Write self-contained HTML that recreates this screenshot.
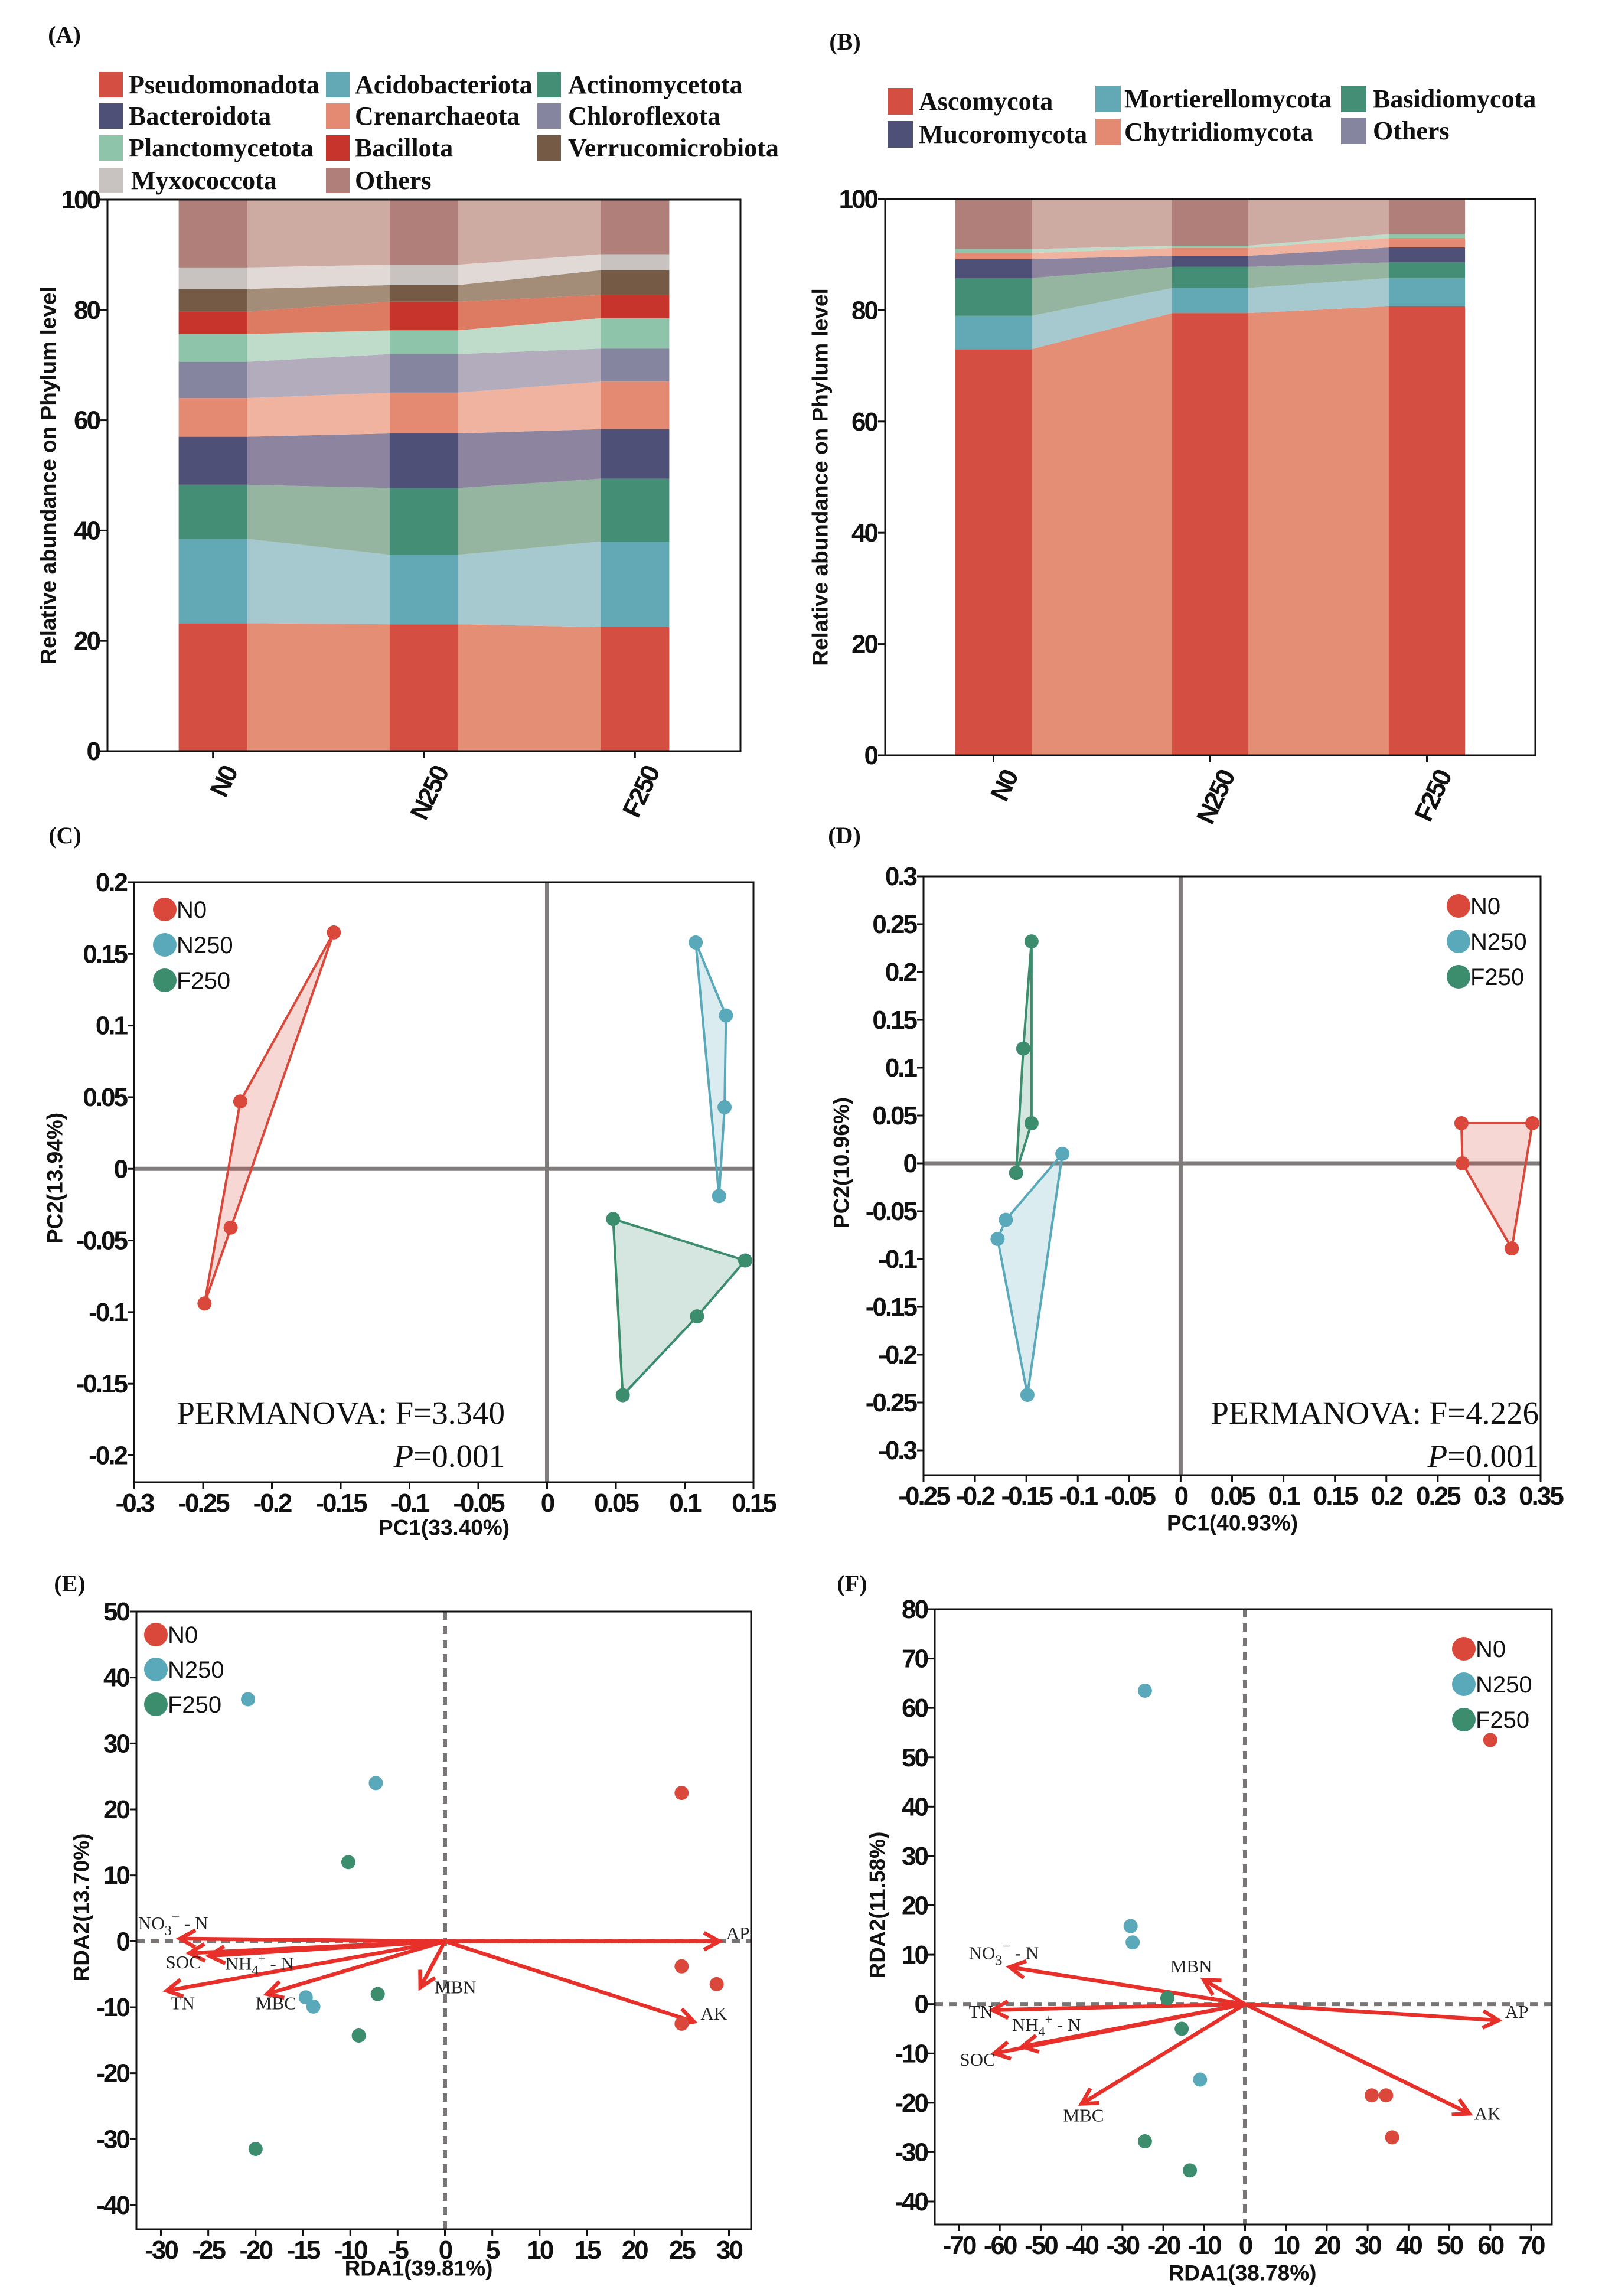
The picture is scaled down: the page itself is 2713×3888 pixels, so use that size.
<!DOCTYPE html>
<html><head><meta charset="utf-8"><title>Microbial community composition and ordination</title>
<style>
html,body{margin:0;padding:0;background:#fff;}
svg{display:block;}
.tick{font-family:"Liberation Sans",Arial,sans-serif;font-weight:bold;font-size:44px;letter-spacing:-3px;fill:#111;}
.axt{font-family:"Liberation Sans",Arial,sans-serif;font-weight:bold;font-size:37px;fill:#111;}
.leg{font-family:"Liberation Serif",serif;font-weight:bold;font-size:44px;fill:#111;}
.lab{font-family:"Liberation Serif",serif;font-weight:bold;font-size:40px;fill:#111;}
.sleg{font-family:"Liberation Sans",Arial,sans-serif;font-size:40px;fill:#111;}
.perm{font-family:"Liberation Serif",serif;font-size:55px;fill:#111;}
.env{font-family:"Liberation Serif",serif;font-size:31px;fill:#222;}
</style></head>
<body>
<svg id="fig" xmlns="http://www.w3.org/2000/svg" width="2713" height="3888" viewBox="0 0 2713 3888">
<rect x="0" y="0" width="2713" height="3888" fill="#fff"/>
<text class="lab" x="109" y="72" text-anchor="middle">(A)</text>
<text class="lab" x="1431" y="84" text-anchor="middle">(B)</text>
<text class="lab" x="110" y="1428" text-anchor="middle">(C)</text>
<text class="lab" x="1430" y="1428" text-anchor="middle">(D)</text>
<text class="lab" x="118" y="2695" text-anchor="middle">(E)</text>
<text class="lab" x="1443" y="2695" text-anchor="middle">(F)</text>

<g>
 <g><rect x="168" y="122" width="40" height="43" fill="#d44f42"/><text class="leg" x="218" y="158">Pseudomonadota</text></g>
 <g><rect x="552" y="122" width="40" height="43" fill="#62a8b5"/><text class="leg" x="601" y="158">Acidobacteriota</text></g>
 <g><rect x="910" y="122" width="40" height="43" fill="#458e76"/><text class="leg" x="962" y="158">Actinomycetota</text></g>
 <g><rect x="168" y="175" width="40" height="43" fill="#4f5077"/><text class="leg" x="218" y="211">Bacteroidota</text></g>
 <g><rect x="552" y="175" width="40" height="43" fill="#e58a72"/><text class="leg" x="601" y="211">Crenarchaeota</text></g>
 <g><rect x="910" y="175" width="40" height="43" fill="#85859f"/><text class="leg" x="962" y="211">Chloroflexota</text></g>
 <g><rect x="168" y="229" width="40" height="43" fill="#8ec4aa"/><text class="leg" x="218" y="265">Planctomycetota</text></g>
 <g><rect x="552" y="229" width="40" height="43" fill="#c6342c"/><text class="leg" x="601" y="265">Bacillota</text></g>
 <g><rect x="910" y="229" width="40" height="43" fill="#755a45"/><text class="leg" x="962" y="265">Verrucomicrobiota</text></g>
 <g><rect x="168" y="284" width="40" height="43" fill="#c8c3c0"/><text class="leg" x="222" y="320">Myxococcota</text></g>
 <g><rect x="552" y="284" width="40" height="43" fill="#b07f79"/><text class="leg" x="601" y="320">Others</text></g>
</g>
<g>
 <g><rect x="1503" y="149" width="43" height="45" fill="#d44f42"/><text class="leg" x="1556" y="186">Ascomycota</text></g>
 <g><rect x="1855" y="145" width="43" height="45" fill="#62a8b5"/><text class="leg" x="1904" y="182">Mortierellomycota</text></g>
 <g><rect x="2271" y="145" width="43" height="45" fill="#458e76"/><text class="leg" x="2325" y="182">Basidiomycota</text></g>
 <g><rect x="1503" y="205" width="43" height="45" fill="#4f5077"/><text class="leg" x="1556" y="242">Mucoromycota</text></g>
 <g><rect x="1855" y="201" width="43" height="45" fill="#e58a72"/><text class="leg" x="1904" y="238">Chytridiomycota</text></g>
 <g><rect x="2271" y="199" width="43" height="45" fill="#85859f"/><text class="leg" x="2325" y="236">Others</text></g>
</g>
</svg>
<script>
// ---------- Panel A data (relative abundance %, bottom to top) ----------
const catsA = ['N0','N250','F250'];
const namesA = ['Pseudomonadota','Acidobacteriota','Actinomycetota','Bacteroidota','Crenarchaeota','Chloroflexota','Planctomycetota','Bacillota','Verrucomicrobiota','Myxococcota','Others'];
const pseudomonadota = [23.2,23.0,22.5];
const acidobacteriota = [15.3,12.6,15.5];
const actinomycetota = [9.8,12.1,11.4];
const bacteroidota = [8.7,9.9,9.0];
const crenarchaeota = [7.0,7.4,8.6];
const chloroflexota = [6.6,7.0,6.0];
const planctomycetota = [5.0,4.3,5.5];
const bacillota = [4.1,5.2,4.2];
const verrucomicrobiota = [4.1,3.0,4.5];
const myxococcota = [3.9,3.7,2.9];
const othersA = [12.3,11.8,9.9];
const colorsA = ['#d44f42','#62a8b5','#458e76','#4f5077','#e58a72','#85859f','#8ec4aa','#c6342c','#755a45','#c8c3c0','#b07f79'];
const flowColorsA = ['#e48e76','#a6c8cf','#95b5a0','#8d84a0','#f0b3a0','#b2acbd','#bfdccb','#dd7a62','#a38c78','#e0d9d6','#cdaba3'];
const yTicksBar = [0,20,40,60,80,100];
// ---------- Panel B data ----------
const catsB = ['N0','N250','F250'];
const namesB = ['Ascomycota','Mortierellomycota','Basidiomycota','Mucoromycota','Chytridiomycota','Minor','Others'];
const ascomycota = [73.0,79.5,80.7];
const mortierellomycota = [6.0,4.5,5.1];
const basidiomycota = [6.8,3.8,2.8];
const mucoromycota = [3.4,2.0,2.7];
const chytridiomycota = [1.1,1.4,1.7];
const minorB = [0.7,0.4,0.7];
const othersB = [9.0,8.4,6.3];
const colorsB = ['#d44f42','#62a8b5','#458e76','#4f5077','#e58a72','#8ec4aa','#b07f79'];
const flowColorsB = ['#e48e76','#a6c8cf','#95b5a0','#8d84a0','#f0b3a0','#bfdccb','#cdaba3'];
// ---------- Panel C (PCoA bacteria) ----------
const cN0x = [-0.155,-0.223,-0.230,-0.249];
const cN0y = [0.165,0.047,-0.041,-0.094];
const cN250x = [0.108,0.130,0.129,0.125];
const cN250y = [0.158,0.107,0.043,-0.019];
const cF250x = [0.048,0.144,0.109,0.055];
const cF250y = [-0.035,-0.064,-0.103,-0.158];
const cXTicks = [-0.3,-0.25,-0.2,-0.15,-0.1,-0.05,0,0.05,0.1,0.15];
const cXLabels = ['-0.3','-0.25','-0.2','-0.15','-0.1','-0.05','0','0.05','0.1','0.15'];
const cYTicks = [-0.2,-0.15,-0.1,-0.05,0,0.05,0.1,0.15,0.2];
const cYLabels = ['-0.2','-0.15','-0.1','-0.05','0','0.05','0.1','0.15','0.2'];
// ---------- Panel D (PCoA fungi) ----------
const dN0x = [0.273,0.342,0.274,0.322];
const dN0y = [0.042,0.042,0.0,-0.089];
const dN250x = [-0.115,-0.170,-0.178,-0.149];
const dN250y = [0.010,-0.059,-0.079,-0.242];
const dF250x = [-0.145,-0.153,-0.145,-0.160];
const dF250y = [0.232,0.120,0.042,-0.010];
const dXTicks = [-0.25,-0.2,-0.15,-0.1,-0.05,0,0.05,0.1,0.15,0.2,0.25,0.3,0.35];
const dXLabels = ['-0.25','-0.2','-0.15','-0.1','-0.05','0','0.05','0.1','0.15','0.2','0.25','0.3','0.35'];
const dYTicks = [-0.3,-0.25,-0.2,-0.15,-0.1,-0.05,0,0.05,0.1,0.15,0.2,0.25,0.3];
const dYLabels = ['-0.3','-0.25','-0.2','-0.15','-0.1','-0.05','0','0.05','0.1','0.15','0.2','0.25','0.3'];
// ---------- Panel E (RDA bacteria) ----------
const eN0x = [25,25,28.7,25];
const eN0y = [22.5,-3.8,-6.5,-12.5];
const eN250x = [-20.8,-7.3,-14.7,-13.9];
const eN250y = [36.7,24,-8.5,-9.9];
const eF250x = [-10.2,-7.1,-9.1,-20];
const eF250y = [12,-8,-14.3,-31.5];
const eEnvNames = ['AP','AK','MBN','MBC','TN','SOC','NH4','NO3'];
const eEnvX = [29,26.3,-2.6,-18.8,-29.4,-27,-24.9,-28];
const eEnvY = [0,-12.2,-7.0,-8,-7.5,-1.8,-2.2,0.4];
const eLabX = [29.7,27.0,-1.1,-20.0,-29.0,-29.5,-23.2,-32.4];
const eLabY = [0.3,-11.9,-7.9,-10.3,-10.3,-4.1,-4.3,1.8];
const eXTicks = [-30,-25,-20,-15,-10,-5,0,5,10,15,20,25,30];
const eYTicks = [-40,-30,-20,-10,0,10,20,30,40,50];
// ---------- Panel F (RDA fungi) ----------
const fN0x = [60,31,34.5,36];
const fN0y = [53.5,-18.5,-18.5,-27];
const fN250x = [-24.5,-28,-27.5,-11];
const fN250y = [63.5,15.8,12.5,-15.3];
const fF250x = [-19,-15.5,-24.5,-13.5];
const fF250y = [1.2,-5,-27.8,-33.7];
const fEnvNames = ['AP','AK','MBN','MBC','TN','SOC','NH4','NO3'];
const fEnvX = [62,54.9,-10.1,-40,-61.8,-61.4,-54.5,-57.6];
const fEnvY = [-3.3,-22.2,4.9,-20.2,-1.2,-10,-8.6,7.5];
const fLabX = [63.6,56.1,-18.3,-44.5,-67.6,-69.8,-57,-67.6];
const fLabY = [-2.8,-23.4,6.4,-23.8,-2.8,-12.5,-5.4,9.1];
const fXTicks = [-70,-60,-50,-40,-30,-20,-10,0,10,20,30,40,50,60,70];
const fYTicks = [-40,-30,-20,-10,0,10,20,30,40,50,60,70,80];

const NS='http://www.w3.org/2000/svg';
const svg=document.getElementById('fig');
function mk(tag,attrs,parent){const e=document.createElementNS(NS,tag);for(const k in attrs)e.setAttribute(k,attrs[k]);(parent||svg).appendChild(e);return e;}
function lin(d0,d1,r0,r1){return v=>r0+(v-d0)*(r1-r0)/(d1-d0);}

function drawStack(cfg){
  const g=mk('g',{});
  
  
  const y=lin(0,100,cfg.bottom,cfg.top);
  const band=(cfg.right-cfg.left)/cfg.cats.length;
  const bw=band*cfg.barFrac;
  const cx=i=>cfg.left+band*(i+0.5);
  const n=cfg.cats.length;
  const cum=new Array(n).fill(0);
  cfg.series.forEach((s,si)=>{
    const lo=cum.slice();
    for(let i=0;i<n;i++)cum[i]+=s[i];
    for(let i=0;i<n-1;i++){
      const x0=cx(i)+bw/2-0.5,x1=cx(i+1)-bw/2+0.5;
      const p=mk('polygon',{points:`${x0},${y(lo[i])} ${x1},${y(lo[i+1])} ${x1},${y(cum[i+1])} ${x0},${y(cum[i])}`,fill:cfg.flow[si]},g);
      
      
    }
    for(let i=0;i<n;i++){
      const r=mk('rect',{x:cx(i)-bw/2,y:y(cum[i]),width:bw,height:y(lo[i])-y(cum[i]),fill:cfg.colors[si]},g);
      
      
    }
  });
  const fr=mk('rect',{x:cfg.left,y:cfg.top,width:cfg.right-cfg.left,height:cfg.bottom-cfg.top,fill:'none',stroke:'#111','stroke-width':3},g);
  
  
  yTicksBar.forEach(t=>{
    mk('line',{x1:cfg.left-12,x2:cfg.left,y1:y(t),y2:y(t),stroke:'#111','stroke-width':3},g);
    const tx=mk('text',{x:cfg.left-14,y:y(t)+15,'text-anchor':'end',class:'tick'},g);
    tx.textContent=t;
    
    
  });
  cfg.cats.forEach((c,i)=>{
    mk('line',{x1:cx(i),x2:cx(i),y1:cfg.bottom,y2:cfg.bottom+12,stroke:'#111','stroke-width':3},g);
    const tx=mk('text',{x:cx(i)+14,y:cfg.bottom+22,'text-anchor':'end',class:'tick',transform:`rotate(-65 ${cx(i)+14} ${cfg.bottom+22})`,'dominant-baseline':'hanging'},g);
    tx.textContent=c;
    
    
  });
  const mid=(cfg.top+cfg.bottom)/2;
  const yt=mk('text',{x:cfg.ytx,y:mid,'text-anchor':'middle',class:'axt','font-size':38,transform:`rotate(-90 ${cfg.ytx} ${mid})`,'dominant-baseline':'central'},g);
  yt.textContent='Relative abundance on Phylum level';
  
  
}
drawStack({name:'stacked-chart-bacteria',cats:catsA,names:namesA,colors:colorsA,flow:flowColorsA,
  series:[pseudomonadota,acidobacteriota,actinomycetota,bacteroidota,crenarchaeota,chloroflexota,planctomycetota,bacillota,verrucomicrobiota,myxococcota,othersA],
  left:182,right:1254,top:338,bottom:1272,barFrac:0.325,ytx:82});
drawStack({name:'stacked-chart-fungi',cats:catsB,names:namesB,colors:colorsB,flow:flowColorsB,
  series:[ascomycota,mortierellomycota,basidiomycota,mucoromycota,chytridiomycota,minorB,othersB],
  left:1499,right:2600,top:337,bottom:1279,barFrac:0.352,ytx:1389});

function hull(pts){
  pts=pts.slice().sort((a,b)=>a[0]-b[0]||a[1]-b[1]);
  const cr=(o,a,b)=>(a[0]-o[0])*(b[1]-o[1])-(a[1]-o[1])*(b[0]-o[0]);
  const lo=[],up=[];
  for(const p of pts){while(lo.length>=2&&cr(lo[lo.length-2],lo[lo.length-1],p)<=0)lo.pop();lo.push(p);}
  for(const p of pts.slice().reverse()){while(up.length>=2&&cr(up[up.length-2],up[up.length-1],p)<=0)up.pop();up.push(p);}
  return lo.slice(0,-1).concat(up.slice(0,-1));
}
const grpColors={N0:'#d9483b',N250:'#5aa9ba',F250:'#3c8c6e'};

function drawScatter(cfg){
  const g=mk('g',{});
  
  
  const X=lin(cfg.xa[0],cfg.xb[0],cfg.xa[1],cfg.xb[1]);
  const Y=lin(cfg.ya[0],cfg.yb[0],cfg.ya[1],cfg.yb[1]);
  const L=cfg.box[0],R=cfg.box[1],T=cfg.box[2],B=cfg.box[3];
  const zs=cfg.dashed?{stroke:'#7a7575','stroke-width':7,'stroke-dasharray':'14 10'}:{stroke:'#7f7b7b','stroke-width':7};
  const zv=mk('line',Object.assign({x1:X(0),x2:X(0),y1:T,y2:B},zs),g);
  
  
  const zh=mk('line',Object.assign({x1:L,x2:R,y1:Y(0),y2:Y(0)},zs),g);
  
  
  if(cfg.hull){
    cfg.groups.forEach(gr=>{
      const pts=gr.x.map((v,i)=>[X(v),Y(gr.y[i])]);
      const h=hull(pts);
      const p=mk('polygon',{points:h.map(q=>q.join(',')).join(' '),fill:grpColors[gr.key],'fill-opacity':0.22,stroke:grpColors[gr.key],'stroke-width':4,'stroke-linejoin':'round'},g);
      
      
    });
  }
  if(cfg.env){
    const e=cfg.env;
    e.names.forEach((nm,i)=>{
      const x0=X(0),y0=Y(0),x1=X(e.x[i]),y1=Y(e.y[i]);
      const ang=Math.atan2(y1-y0,x1-x0);
      const hl=30,ha=0.5;
      const a=mk('path',{d:`M${x0},${y0}L${x1},${y1}M${x1-hl*Math.cos(ang-ha)},${y1-hl*Math.sin(ang-ha)}L${x1},${y1}L${x1-hl*Math.cos(ang+ha)},${y1-hl*Math.sin(ang+ha)}`,fill:'none',stroke:'#e8302a','stroke-width':6.5,'stroke-linecap':'butt','stroke-linejoin':'miter'},g);
      
      
      const t=mk('text',{x:X(e.lx[i]),y:Y(e.ly[i]),class:'env'},g);
      
      
      if(nm==='NO3'){t.innerHTML='NO<tspan dy="10" font-size="24">3</tspan><tspan dy="-24" font-size="24">−</tspan><tspan dy="14"> - N</tspan>';}
      else if(nm==='NH4'){t.innerHTML='NH<tspan dy="8" font-size="22">4</tspan><tspan dy="-20" font-size="22">+</tspan><tspan dy="12"> - N</tspan>';}
      else t.textContent=nm;
    });
  }
  cfg.groups.forEach(gr=>{
    gr.x.forEach((v,i)=>{
      const c=mk('circle',{cx:X(v),cy:Y(gr.y[i]),r:cfg.pr,fill:grpColors[gr.key]},g);
      
      
    });
  });
  const fr=mk('rect',{x:L,y:T,width:R-L,height:B-T,fill:'none',stroke:'#111','stroke-width':3},g);
  
  
  cfg.xt.forEach((t,i)=>{
    mk('line',{x1:X(t),x2:X(t),y1:B,y2:B+11,stroke:'#111','stroke-width':3},g);
    const tx=mk('text',{x:X(t),y:B+50,'text-anchor':'middle',class:'tick'},g);
    tx.textContent=cfg.xl?cfg.xl[i]:t;
    
    
  });
  cfg.yt.forEach((t,i)=>{
    mk('line',{x1:L-11,x2:L,y1:Y(t),y2:Y(t),stroke:'#111','stroke-width':3},g);
    const tx=mk('text',{x:L-13,y:Y(t)+15,'text-anchor':'end',class:'tick'},g);
    tx.textContent=cfg.yl?cfg.yl[i]:t;
    
    
  });
  const xt=mk('text',{x:cfg.xtitle[1],y:cfg.xtitle[2],'text-anchor':'middle',class:'axt','dominant-baseline':'central'},g);
  xt.textContent=cfg.xtitle[0];
  
  
  const yt=mk('text',{x:cfg.ytitle[1],y:cfg.ytitle[2],'text-anchor':'middle',class:'axt','dominant-baseline':'central',transform:`rotate(-90 ${cfg.ytitle[1]} ${cfg.ytitle[2]})`},g);
  yt.textContent=cfg.ytitle[0];
  
  
  const lg=mk('g',{},g);
  
  
  ['N0','N250','F250'].forEach((k,i)=>{
    const ly=cfg.leg[1]+i*cfg.leg[2];
    const c=mk('circle',{cx:cfg.leg[0],cy:ly,r:20,fill:grpColors[k]},lg);
    
    
    const t=mk('text',{x:cfg.leg[0]+20,y:ly+14,class:'sleg'},lg);
    t.textContent=k;
    
    
  });
  if(cfg.perm){
    const t1=mk('text',{x:cfg.perm[1],y:2411,'text-anchor':'end',class:'perm'},g);
    t1.textContent='PERMANOVA: F='+cfg.perm[0];
    
    
    const t2=mk('text',{x:cfg.perm[1],y:2484,'text-anchor':'end',class:'perm'},g);
    t2.innerHTML='<tspan font-style="italic">P</tspan>=0.001';
    
    
  }
}

drawScatter({name:'pcoa-bacteria',xa:[-0.3,227.5],xb:[0.15,1276],ya:[0.2,1494],yb:[-0.2,2464.5],box:[227,1276,1494,2510],
  hull:true,pr:12,
  groups:[{key:'N0',x:cN0x,y:cN0y},{key:'N250',x:cN250x,y:cN250y},{key:'F250',x:cF250x,y:cF250y}],
  xt:cXTicks,xl:cXLabels,yt:cYTicks,yl:cYLabels,xtitle:['PC1(33.40%)',752,2587],ytitle:['PC2(13.94%)',93,1995],
  leg:[279,1540,60],perm:['3.340',855]});
drawScatter({name:'pcoa-fungi',xa:[-0.25,1564],xb:[0.35,2609],ya:[0.3,1484],yb:[-0.3,2456],box:[1564,2609,1484,2498],
  hull:true,pr:12,
  groups:[{key:'N0',x:dN0x,y:dN0y},{key:'N250',x:dN250x,y:dN250y},{key:'F250',x:dF250x,y:dF250y}],
  xt:dXTicks,xl:dXLabels,yt:dYTicks,yl:dYLabels,xtitle:['PC1(40.93%)',2087,2579],ytitle:['PC2(10.96%)',1425,1969],
  leg:[2470,1534,60],perm:['4.226',2606]});
drawScatter({name:'rda-bacteria',xa:[-30,272.5],xb:[30,1234.5],ya:[50,2729],yb:[-40,3734],box:[231,1272,2729,3775],
  hull:false,pr:12,dashed:true,
  groups:[{key:'N0',x:eN0x,y:eN0y},{key:'N250',x:eN250x,y:eN250y},{key:'F250',x:eF250x,y:eF250y}],
  env:{names:eEnvNames,x:eEnvX,y:eEnvY,lx:eLabX,ly:eLabY},
  xt:eXTicks,yt:eYTicks,xtitle:['RDA1(39.81%)',709,3841],ytitle:['RDA2(13.70%)',138,3230],
  leg:[264,2768,59]});
drawScatter({name:'rda-fungi',xa:[-70,1624],xb:[70,2593],ya:[80,2725],yb:[-40,3728],box:[1583,2628,2725,3767],
  hull:false,pr:12,dashed:true,
  groups:[{key:'N0',x:fN0x,y:fN0y},{key:'N250',x:fN250x,y:fN250y},{key:'F250',x:fF250x,y:fF250y}],
  env:{names:fEnvNames,x:fEnvX,y:fEnvY,lx:fLabX,ly:fLabY},
  xt:fXTicks,yt:fYTicks,xtitle:['RDA1(38.78%)',2104,3849],ytitle:['RDA2(11.58%)',1486,3226],
  leg:[2479,2792,60]});
</script>
</body></html>
